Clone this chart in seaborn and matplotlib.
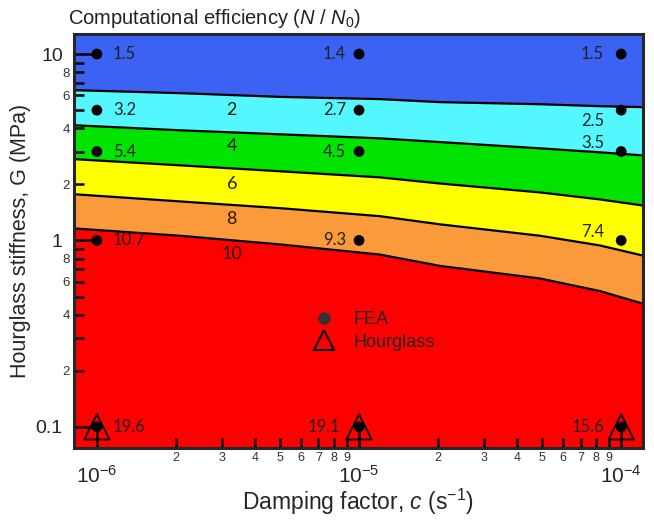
import numpy as np
import pandas as pd
import matplotlib
matplotlib.use("Agg")
import matplotlib.pyplot as plt
import matplotlib.ticker as mticker
import seaborn as sns

# FEA sample points
damping = [1e-6, 1e-5, 1e-4]
stiffness = [10, 5, 3, 1, 0.1]
ratio = [
    [1.5, 3.2, 5.4, 10.7, 19.6],   # c = 1e-6
    [1.4, 2.7, 4.5, 9.3, 19.1],    # c = 1e-5
    [1.5, 2.5, 3.5, 7.4, 15.6],    # c = 1e-4
]
hourglass_G = 0.1

# contour boundaries (G where N/N0 = level), read along c
c_bound = [8.2e-7, 2.07e-6, 5.0e-6, 1.2e-5, 2.04e-5, 4.9e-5, 8.3e-5, 1.21e-4]
levels = [2, 4, 6, 8, 10]
bound_G = {
    2: [6.40, 6.17, 5.89, 5.73, 5.52, 5.38, 5.25, 5.19],
    4: [4.15, 3.90, 3.71, 3.53, 3.37, 3.12, 2.97, 2.86],
    6: [2.73, 2.53, 2.35, 2.18, 2.02, 1.81, 1.66, 1.54],
    8: [1.77, 1.62, 1.49, 1.35, 1.22, 1.06, 0.94, 0.83],
    10: [1.16, 1.06, 0.952, 0.84, 0.73, 0.625, 0.535, 0.458],
}
# colour below each level line; above level 2 is blue
below_colors = {2: "#55f7ff", 4: "#00e400", 6: "#ffff00", 8: "#fb9a3b", 10: "#ff0000"}
top_color = "#3b62f2"

df = pd.DataFrame({
    "c": np.repeat(damping, len(stiffness)),
    "G": np.tile(stiffness, len(damping)),
    "ratio": np.ravel(ratio),
})

sns.set_style("ticks")
plt.rcParams["font.family"] = ["Liberation Sans", "DejaVu Sans"]
plt.rcParams["mathtext.fontset"] = "custom"
plt.rcParams["mathtext.rm"] = "Liberation Sans"
plt.rcParams["mathtext.it"] = "Liberation Sans:italic"

fig = plt.figure(figsize=(6.54, 5.24), dpi=100)
ax = fig.add_axes([0.113, 0.145, 0.870, 0.790])
ax.set_xscale("log")
ax.set_yscale("log")
ax.set_facecolor(top_color)
ax.set_axisbelow(False)

ymin, ymax = 0.077, 12.8
floor = [ymin * 0.5] * len(c_bound)
for k, l in enumerate(levels):
    ax.fill_between(c_bound, floor, bound_G[l], facecolor=below_colors[l],
                    edgecolor="none", linewidth=0, zorder=1 + 0.1 * k)
for l in levels:
    ax.plot(c_bound, bound_G[l], color="black", lw=1.6, zorder=2)

# contour level labels
for l, gy in zip(levels, [5.0, 3.2, 2.0, 1.3, 0.85]):
    ax.text(3.27e-6, gy, str(l), ha="center", va="center", fontsize=13,
            family=["Lato", "DejaVu Sans"], color="#2a1a00", zorder=4)

# hourglass triangles
ax.scatter(damping, [hourglass_G] * 3, marker="^", s=330, facecolors="none",
           edgecolors="black", linewidths=1.3, zorder=3)
sns.scatterplot(data=df, x="c", y="G", ax=ax, color="black", s=60,
                edgecolor="none", zorder=5, legend=False)

# point labels (pixel offsets)
offs = {
    0: [(16, 0)] * 5,
    1: [(-13, 0), (-13, 0), (-13, 0), (-13, 0), (-19, 0)],
    2: [(-17, 0), (-17, -11), (-17, 9), (-17, 8), (-17, 0)],
}
for i, c in enumerate(damping):
    for j, g in enumerate(stiffness):
        dx, dy = offs[i][j]
        ax.annotate(f"{ratio[i][j]}", (c, g), xytext=(dx, dy), textcoords="offset pixels",
                    ha="left" if dx > 0 else "right", va="center", fontsize=12,
                    family=["Lato", "DejaVu Sans"], color="#222222", zorder=6)

# legend
h1 = plt.Line2D([], [], marker="o", ls="none", color="#333333", markersize=8)
h2 = plt.Line2D([], [], marker="^", ls="none", markerfacecolor="none",
                markeredgecolor="black", markeredgewidth=1.5, markersize=15)
ax.legend([h1, h2], ["FEA", "Hourglass"], frameon=False, fontsize=13,
          loc="upper left", bbox_to_anchor=(0.38, 0.37), handletextpad=0.6,
          labelspacing=0.3)

ax.set_xlim(8.17e-7, 1.21e-4)
ax.set_ylim(ymin, ymax)

x_minor = [d * 10.0 ** e for e in (-6, -5) for d in range(2, 10)]
y_minor = [d * 10.0 ** e for e in (-1, 0) for d in range(2, 10)]
ax.xaxis.set_major_locator(mticker.FixedLocator([1e-6, 1e-5, 1e-4]))
ax.xaxis.set_major_formatter(mticker.FixedFormatter([r"$10^{-6}$", r"$10^{-5}$", r"$10^{-4}$"]))
ax.xaxis.set_minor_locator(mticker.FixedLocator(x_minor))
ax.xaxis.set_minor_formatter(mticker.FixedFormatter([str(d) for e in (-6, -5) for d in range(2, 10)]))
ax.yaxis.set_major_locator(mticker.FixedLocator([0.1, 1, 10]))
ax.yaxis.set_major_formatter(mticker.FixedFormatter(["0.1", "1", "10"]))
ax.yaxis.set_minor_locator(mticker.FixedLocator(y_minor))
ax.yaxis.set_minor_formatter(mticker.FixedFormatter(
    [str(d) if d % 2 == 0 else "" for e in (-1, 0) for d in range(2, 10)]))

ax.tick_params(which="both", direction="in", color="black", width=1.8, top=False, right=False)
ax.tick_params(axis="x", which="major", length=16, pad=12, labelsize=15)
ax.tick_params(axis="x", which="minor", length=7, pad=3, labelsize=9, labelcolor="#333333")
ax.tick_params(axis="y", which="major", length=16, pad=8, labelsize=14)
ax.tick_params(axis="y", which="minor", length=7, pad=3, labelsize=9.5, labelcolor="#333333")
for sp in ax.spines.values():
    sp.set_linewidth(2.2)
    sp.set_zorder(10)
ax.xaxis.set_zorder(8)
ax.yaxis.set_zorder(8)

ax.set_xlabel(r"Damping factor, $c$ (s$^{-1}$)", fontsize=16.5, labelpad=0)
ax.set_ylabel("Hourglass stiffness, G (MPa)", fontsize=15.5, labelpad=3)
fig.text(68 / 654, 1 - 18 / 524, r"Computational efficiency ($N$ / $N_0$)", fontsize=14.5,
         ha="left", va="center", color="#222222")

fig.savefig("out.png", dpi=100)
